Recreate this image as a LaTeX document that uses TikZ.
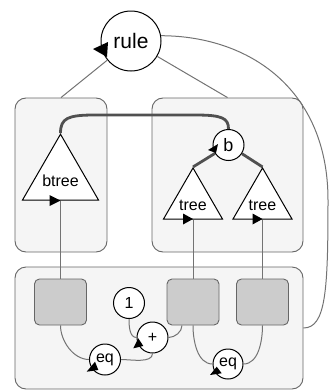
\documentclass[tikz,border=0pt]{standalone}
\usepackage{fontspec}
\setmainfont{Liberation Sans}
\usetikzlibrary{shapes.geometric,calc}
\definecolor{boxfill}{HTML}{F5F5F5}
\definecolor{boxline}{HTML}{666666}
\definecolor{slotfill}{HTML}{CCCCCC}
\definecolor{wire}{HTML}{737373}
\definecolor{thick}{HTML}{505050}
\tikzset{
  group/.style={draw=boxline, fill=boxfill, line width=0.9pt, rounded corners=11pt},
  slot/.style={draw=boxline, fill=slotfill, line width=0.9pt, rounded corners=5pt,
    minimum width=52pt, minimum height=46pt, inner sep=0pt},
  op/.style={circle, draw=black, fill=white, line width=1pt, inner sep=0pt,
    minimum size=31pt, font=\fontsize{16}{16}\selectfont},
  tri/.style={regular polygon, regular polygon sides=3, draw=black, fill=white,
    line width=1pt, inner sep=0pt},
  lbl/.style={inner sep=0pt, font=\fontsize{16}{16}\selectfont},
  wireline/.style={draw=wire, line width=1pt},
  thickline/.style={draw=thick, line width=2.8pt},
  tip/.style={fill=black},
}
\begin{document}
\begin{tikzpicture}[x=1pt, y=-1pt]
\useasboundingbox (0,0) rectangle (330,391);

% group boxes
\node[group, minimum width=92pt, minimum height=154pt] (leftbox) at (61,175) {};
\node[group, minimum width=151pt, minimum height=154pt] (rightbox) at (227.5,175) {};
\node[group, minimum width=288pt, minimum height=122pt] (bottombox) at (159,328) {};

% rule node and its links
\node[circle, draw=black, fill=white, line width=1pt, inner sep=0pt, minimum size=60pt,
  font=\fontsize{21}{21}\selectfont] (rule) at (131,41) {rule};
\draw[wireline] (leftbox.north) -- (rule);
\draw[wireline] (rightbox.north) -- (rule);
\draw[wireline] (rule.10) .. controls (250,36) and (328,90) .. (328,200)
  .. controls (328,290) and (326,328) .. (bottombox.east);

% trees
\node[tri, minimum size=87.8pt] (btree) at (60.5,178.1) {};
\node[lbl] (btreelbl) at (60.5,181) {btree};
\node[op, font=\fontsize{18}{18}\selectfont] (b) at (228.5,145) {b};
\node[tri, minimum size=68.1pt] (treeL) at (193,202) {};
\node[tri, minimum size=68.1pt] (treeR) at (262.5,202) {};
\node[lbl] (treeLlbl) at (193,205) {tree};
\node[lbl] (treeRlbl) at (262.5,205) {tree};

\draw[thickline] (btree.corner 1) .. controls (60.5,118) and (68,115) .. (95,115)
  -- (195,115) .. controls (222,115) and (228.5,118) .. (b.north);
\draw[thickline] (b) -- (treeL.corner 1);
\draw[thickline] (b) -- (treeR.corner 1);

% slots and operators in the bottom group
\node[slot] (sqA) at (60.5,302) {};
\node[slot] (sqB) at (193,302) {};
\node[slot] (sqC) at (262.5,302) {};
\node[op] (one) at (129,303) {1};
\node[op] (plus) at (152.5,337.5) {+};
\node[op] (eqL) at (105,359.5) {eq};
\node[op, minimum size=30pt] (eqR) at (228,364) {eq};

\draw[wireline] (btree.side 2) -- (sqA.north);
\draw[wireline] (treeL.side 2) -- (sqB.north);
\draw[wireline] (treeR.side 2) -- (sqC.north);

\draw[wireline] (sqA.south) to[out=-90, in=180, looseness=0.9] (eqL.west);
\draw[wireline] (eqL.east) to[out=0, in=-90, looseness=0.8] (plus.south);
\draw[wireline] (one.south) to[out=-90, in=180, looseness=0.9] (plus.west);
\coordinate (sqBleft) at ($(sqB.south)+(-11,0)$);
\draw[wireline] (plus.east) to[out=0, in=-90, looseness=0.9] (sqBleft);
\draw[wireline] (sqB.south) to[out=-90, in=180, looseness=0.9] (eqR.west);
\draw[wireline] (sqC.south) to[out=-90, in=0, looseness=0.9] (eqR.east);

% arrow tips
\fill[tip] (93,49) -- (108,42) -- (107,57) -- cycle;
\fill[tip] (208,150) -- (218,144) -- (216,153) -- cycle;
\fill[tip] (60.5,200.5) -- (49.5,195) -- (49.5,206) -- cycle;
\fill[tip] (193,219) -- (183,213.5) -- (183,224.5) -- cycle;
\fill[tip] (262.5,219) -- (252.5,213.5) -- (252.5,224.5) -- cycle;
\fill[tip] (86.7,371.7) -- (95,361.7) -- (98.3,370) -- cycle;
\fill[tip] (133.3,348.3) -- (138.3,338.3) -- (143.3,346) -- cycle;
\fill[tip] (210,375) -- (216.7,366.7) -- (221.7,373.3) -- cycle;
\end{tikzpicture}
\end{document}
